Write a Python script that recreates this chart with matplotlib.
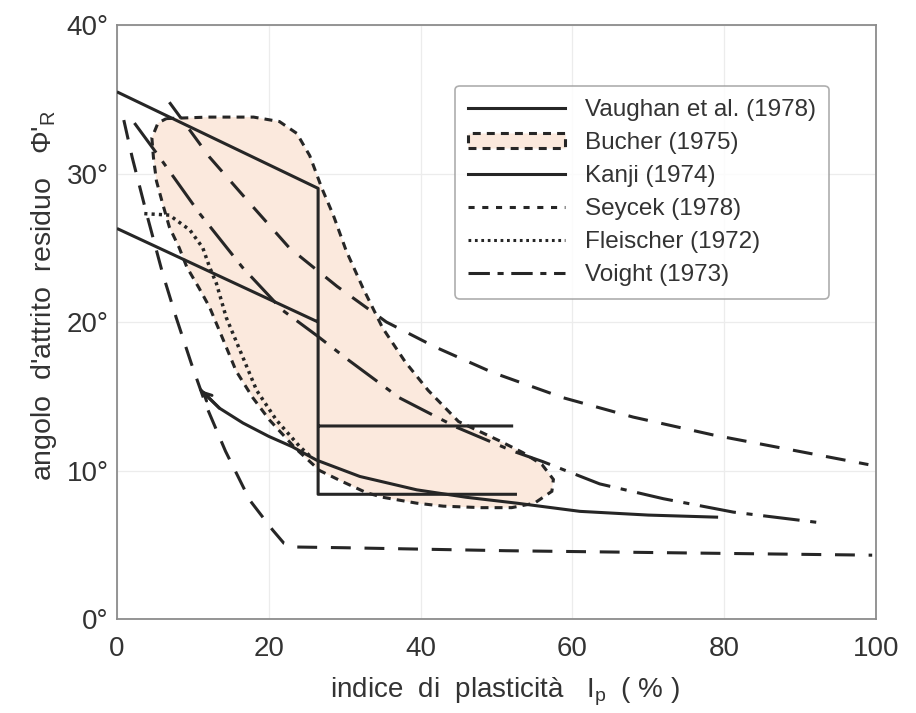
import matplotlib
matplotlib.use("Agg")
import matplotlib.pyplot as plt
from matplotlib.patches import Patch
from matplotlib.lines import Line2D
import numpy as np

plt.rcParams['font.family'] = ['Liberation Sans', 'DejaVu Sans']
plt.rcParams['mathtext.fontset'] = 'custom'
plt.rcParams['mathtext.rm'] = 'Liberation Sans'
plt.rcParams['mathtext.it'] = 'Liberation Sans:italic'

nan = np.nan

# Vaughan et al. (1978) - envelope made of straight segments (nan = break)
vaughan_x = [0, 26.5, 26.5, 52.7, nan, 0, 26.5, nan, 26.5, 52.2]
vaughan_y = [35.5, 29.0, 8.4, 8.4, nan, 26.3, 20.0, nan, 13.0, 13.0]

# Bucher (1975) - closed band
bucher_x = [6.5, 12, 18, 21.4, 23.7, 25.4, 27.0, 28.5, 30.2, 32.4, 35.0, 38.0, 41.0, 45.0,
            50.4, 53.5, 56.0, 57.5, 57.3, 55.0, 52.0, 48.0, 43.0, 39.5, 35.0, 32.9, 29.5,
            26.7, 23.5, 20.1, 17.9, 15.7, 14.0, 12.2, 10.8, 9.2, 8.2, 6.9, 6.0, 5.2, 4.8,
            4.6, 5.4]
bucher_y = [33.7, 33.8, 33.8, 33.5, 32.7, 31.2, 29.0, 27.2, 24.8, 22.3, 19.6, 17.3, 15.4, 13.3,
            12.0, 11.2, 10.4, 9.4, 8.6, 7.8, 7.5, 7.5, 7.6, 7.8, 8.2, 8.5, 9.3,
            10.0, 11.5, 13.4, 14.9, 16.7, 18.8, 21.0, 22.3, 23.7, 25.0, 26.4, 28.0, 29.5, 31.1,
            32.4, 33.4]

# Kanji (1974)
kanji_x = [11.1, 13.5, 16.6, 20.0, 23.1, 26.3, 32.0, 39.5, 46.0, 52.7, 61.0, 70.0, 79.0]
kanji_y = [15.4, 14.2, 13.2, 12.3, 11.6, 10.7, 9.6, 8.7, 8.2, 7.8, 7.25, 7.0, 6.86]

# Seycek (1978) - upper and lower limits
seycek_up_x = [6.9, 12.2, 17.5, 22.7, 29.0, 35.5, 42.0, 49.5, 58.8, 68.0, 78.5, 99.0]
seycek_up_y = [34.8, 31.1, 28.0, 25.0, 22.4, 20.0, 18.3, 16.6, 14.9, 13.6, 12.4, 10.4]
seycek_lo_x = [0.9, 2.0, 3.0, 3.9, 6.0, 7.8, 9.8, 11.8, 14.3, 17.5, 20.5, 22.0, 23.5, 30.0, 51.3, 75.0, 99.5]
seycek_lo_y = [33.6, 31.1, 29.1, 27.3, 23.3, 20.3, 17.2, 14.3, 11.3, 8.0, 6.0, 5.1, 4.85, 4.8, 4.6, 4.45, 4.3]

# Fleischer (1972)
fleischer_x = [3.6, 6.9, 9.6, 11.3, 12.2, 13.1, 14.4, 16.2, 18.4, 21.0, 24.1, 25.6]
fleischer_y = [27.3, 27.2, 26.2, 25.0, 23.7, 22.6, 20.3, 18.1, 15.4, 13.4, 11.6, 10.9]

# Voight (1973)
voight_x = [2.3, 5.6, 10.9, 16.5, 21.8, 26.3, 30.6, 37.2, 44.8, 52.2, 56.1, 63.6, 72.0, 81.2, 92.4]
voight_y = [33.4, 31.1, 27.3, 23.7, 20.8, 19.1, 17.4, 14.9, 12.9, 11.3, 10.6, 9.1, 8.1, 7.2, 6.5]

x_ticks = [0, 20, 40, 60, 80, 100]
y_ticks = [0, 10, 20, 30, 40]

INK = '#262626'
FILL = '#fbe9dd'
LW = 2.2

DASH_SEYCEK = (0, (6.5, 4.5))
DASH_BUCHER = (0, (2.6, 2.0))
DOT_FLEISCHER = (0, (0.9, 1.2))
DASHDOT_VOIGHT = (0, (12, 3.5, 2, 3.5))

fig = plt.figure(figsize=(9.16, 7.13), dpi=100)
ax = fig.add_axes([0.1277, 0.1318, 0.8286, 0.8331])

ax.fill(bucher_x, bucher_y, facecolor=FILL, edgecolor='none', zorder=1)
ax.fill(bucher_x, bucher_y, facecolor='none', edgecolor=INK, linewidth=LW,
        linestyle=DASH_BUCHER, zorder=3)

ax.plot(vaughan_x, vaughan_y, color=INK, lw=LW, solid_capstyle='butt', zorder=4)
ax.plot(kanji_x, kanji_y, color=INK, lw=LW, zorder=4)
# small open arrowhead at the start of the Kanji curve
ax.annotate("", xy=(kanji_x[0], kanji_y[0]), xytext=(kanji_x[1], kanji_y[1]),
            arrowprops=dict(arrowstyle='->', color=INK, lw=LW, mutation_scale=14,
                            shrinkA=0, shrinkB=0), zorder=4)
ax.plot(seycek_up_x, seycek_up_y, color=INK, lw=LW, linestyle=DASH_SEYCEK, zorder=4)
ax.plot(seycek_lo_x, seycek_lo_y, color=INK, lw=LW, linestyle=DASH_SEYCEK, zorder=4)
ax.plot(fleischer_x, fleischer_y, color=INK, lw=LW + 0.3, linestyle=DOT_FLEISCHER, zorder=4)
ax.plot(voight_x, voight_y, color=INK, lw=LW, linestyle=DASHDOT_VOIGHT, zorder=4)

ax.set_xlim(0, 100)
ax.set_ylim(0, 40)
ax.set_xticks(x_ticks)
ax.set_yticks(y_ticks)
ax.set_xticklabels([str(v) for v in x_ticks])
ax.set_yticklabels([f"{v}°" for v in y_ticks])
ax.tick_params(length=0, labelsize=20, labelcolor='#333333')
ax.tick_params(axis='x', pad=12)
ax.tick_params(axis='y', pad=6)
ax.grid(True, color='#ececec', lw=0.9)
ax.set_axisbelow(True)
for s in ax.spines.values():
    s.set_color('#8c8c8c')
    s.set_linewidth(1.3)

ax.set_xlabel("indice  di  plasticità   I$_{\\mathrm{p}}$  ( % )", fontsize=20,
              color='#333333')
ax.set_ylabel("angolo  d'attrito  residuo   Φ'$_{\\mathrm{R}}$", fontsize=20.5,
              color='#333333')
ax.xaxis.set_label_coords(0.511, -0.095)
ax.yaxis.set_label_coords(-0.076, 0.545)

handles = [
    Line2D([], [], color=INK, lw=LW),
    Patch(facecolor=FILL, edgecolor=INK, linewidth=LW, linestyle=DASH_BUCHER),
    Line2D([], [], color=INK, lw=LW),
    Line2D([], [], color=INK, lw=LW, linestyle=(0, (2, 2.5))),
    Line2D([], [], color=INK, lw=LW, linestyle=DOT_FLEISCHER),
    Line2D([], [], color=INK, lw=LW, linestyle=(0, (7, 2.5, 2, 2.5))),
]
labels = ["Vaughan et al. (1978)", "Bucher (1975)", "Kanji (1974)",
          "Seycek (1978)", "Fleischer (1972)", "Voight (1973)"]
leg = ax.legend(handles, labels, loc='upper left', bbox_to_anchor=(0.445, 0.898),
                borderaxespad=0, fontsize=17.5, handlelength=4.0, handleheight=0.6,
                handletextpad=0.8, labelspacing=0.45, borderpad=0.55,
                frameon=True, fancybox=True)
leg.get_frame().set_edgecolor('#9a9a9a')
leg.get_frame().set_linewidth(1.2)
for t in leg.get_texts():
    t.set_color('#333333')

fig.savefig("out.png", dpi=100, facecolor='white')
